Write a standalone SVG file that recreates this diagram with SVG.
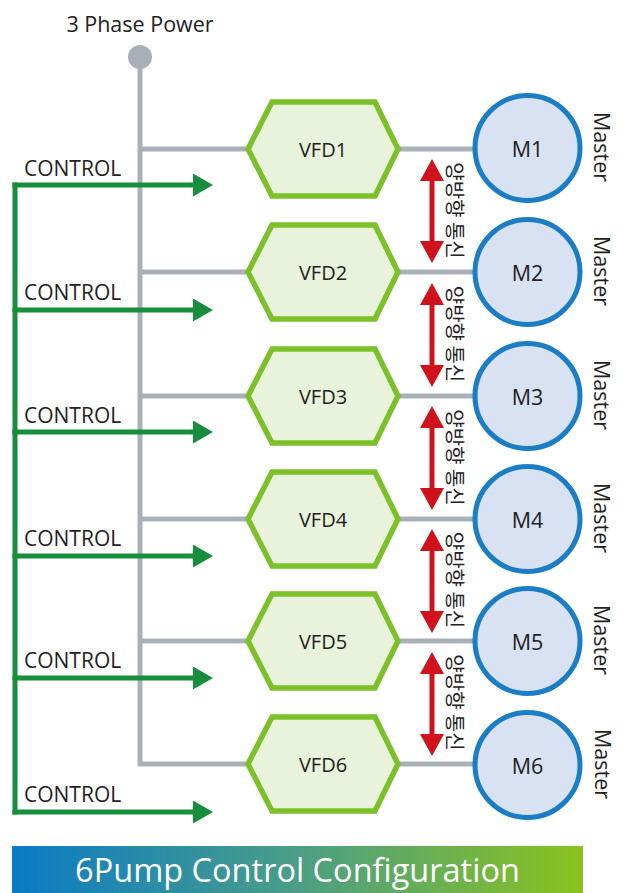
<svg xmlns="http://www.w3.org/2000/svg" width="623" height="893" viewBox="0 0 623 893">
<defs>
<linearGradient id="bannerGrad" x1="0" y1="0" x2="1" y2="0">
<stop offset="0" stop-color="#0a7bc6"/>
<stop offset="0.5" stop-color="#4b9e86"/>
<stop offset="1" stop-color="#8bc21c"/>
</linearGradient>
<marker id="greenHead" markerUnits="userSpaceOnUse" markerWidth="20" markerHeight="23" refX="2" refY="11.5" orient="auto">
<path d="M0,0 L20,11.5 L0,23 Z" fill="#178e3b"/>
</marker>
<marker id="redHead" markerUnits="userSpaceOnUse" markerWidth="22" markerHeight="24" refX="2" refY="12" orient="auto-start-reverse">
<path d="M0,0 L22,12 L0,24 Z" fill="#d0121c"/>
</marker>
</defs>
<style>
.power{fill:none;stroke:#a9b0b8;stroke-width:5}
.ctrl{fill:none;stroke:#178e3b;stroke-width:5}
.ctrlArrow{fill:none;stroke:#178e3b;stroke-width:5;marker-end:url(#greenHead)}
.comm{fill:none;stroke:#d0121c;stroke-width:5;marker-start:url(#redHead);marker-end:url(#redHead)}
.hex{fill:#e9f2da;stroke:#7cc12a;stroke-width:5.5;stroke-linejoin:miter}
.motor{fill:#d9e2f3;stroke:#1b7dc3;stroke-width:5}
.lbl{font-family:"Open Sans","Liberation Sans",sans-serif;font-size:20px;fill:#222;text-anchor:middle;dominant-baseline:central}
.big{font-size:21.5px}
.ctl{font-family:"Open Sans","Liberation Sans",sans-serif;font-size:21px;fill:#222}
.kr{font-family:"Noto Sans CJK KR",sans-serif;font-size:20px;fill:#222;text-anchor:middle;dominant-baseline:central}
.title{font-family:"Open Sans","Liberation Sans",sans-serif;font-size:32.5px;fill:#ffffff;text-anchor:middle}
</style>
<rect width="623" height="893" fill="#ffffff"/>

<g id="connectors">
<path class="power" d="M140,57 V764 H250"/>
<path class="power" d="M140,149 H250 M140,272 H250 M140,396 H250 M140,519 H250 M140,641 H250"/>
<path class="power" d="M396,149 H476 M396,272 H476 M396,396 H476 M396,519 H476 M396,641 H476 M396,764 H476"/>
<path class="ctrl" d="M15,182.5 V814.5"/>
<line class="ctrlArrow" x1="12.5" y1="185" x2="195" y2="185"/>
<line class="ctrlArrow" x1="12.5" y1="310" x2="195" y2="310"/>
<line class="ctrlArrow" x1="12.5" y1="432" x2="195" y2="432"/>
<line class="ctrlArrow" x1="12.5" y1="556" x2="195" y2="556"/>
<line class="ctrlArrow" x1="12.5" y1="678" x2="195" y2="678"/>
<line class="ctrlArrow" x1="12.5" y1="812" x2="195" y2="812"/>
<line class="comm" x1="432" y1="179" x2="432" y2="243"/>
<line class="comm" x1="432" y1="303" x2="432" y2="367"/>
<line class="comm" x1="432" y1="426" x2="432" y2="490"/>
<line class="comm" x1="432" y1="549" x2="432" y2="613"/>
<line class="comm" x1="432" y1="672" x2="432" y2="736"/>
</g>

<g id="power-source">
<circle cx="140" cy="57" r="12" fill="#a9b0b8"/>
<text class="lbl big" x="140" y="23">3 Phase Power</text>
</g>

<g id="control-labels">
<text class="ctl" x="24" y="176">CONTROL</text>
<text class="ctl" x="24" y="300">CONTROL</text>
<text class="ctl" x="24" y="423">CONTROL</text>
<text class="ctl" x="24" y="546">CONTROL</text>
<text class="ctl" x="24" y="668">CONTROL</text>
<text class="ctl" x="24" y="802">CONTROL</text>
</g>

<g id="comm-labels">
<text class="kr" transform="translate(455,210.5) rotate(90)">양방향 통신</text>
<text class="kr" transform="translate(455,334) rotate(90)">양방향 통신</text>
<text class="kr" transform="translate(455,457.5) rotate(90)">양방향 통신</text>
<text class="kr" transform="translate(455,580) rotate(90)">양방향 통신</text>
<text class="kr" transform="translate(455,702.5) rotate(90)">양방향 통신</text>
</g>

<g id="VFD1"><polygon class="hex" points="248,149 272,102 375,102 398,149 375,196 272,196"/><text class="lbl" x="323" y="149">VFD1</text></g>
<g id="VFD2"><polygon class="hex" points="248,272 272,225 375,225 398,272 375,319 272,319"/><text class="lbl" x="323" y="272">VFD2</text></g>
<g id="VFD3"><polygon class="hex" points="248,396 272,349 375,349 398,396 375,443 272,443"/><text class="lbl" x="323" y="396">VFD3</text></g>
<g id="VFD4"><polygon class="hex" points="248,519 272,472 375,472 398,519 375,566 272,566"/><text class="lbl" x="323" y="519">VFD4</text></g>
<g id="VFD5"><polygon class="hex" points="248,641 272,594 375,594 398,641 375,688 272,688"/><text class="lbl" x="323" y="641">VFD5</text></g>
<g id="VFD6"><polygon class="hex" points="248,764 272,717 375,717 398,764 375,811 272,811"/><text class="lbl" x="323" y="764">VFD6</text></g>

<g id="M1"><circle class="motor" cx="527.5" cy="148" r="52.5"/><text class="lbl big" x="527.5" y="148">M1</text><text class="lbl big" transform="translate(602,147) rotate(90)">Master</text></g>
<g id="M2"><circle class="motor" cx="527.5" cy="272" r="52.5"/><text class="lbl big" x="527.5" y="272">M2</text><text class="lbl big" transform="translate(602,271) rotate(90)">Master</text></g>
<g id="M3"><circle class="motor" cx="527.5" cy="396" r="52.5"/><text class="lbl big" x="527.5" y="396">M3</text><text class="lbl big" transform="translate(602,395) rotate(90)">Master</text></g>
<g id="M4"><circle class="motor" cx="527.5" cy="519" r="52.5"/><text class="lbl big" x="527.5" y="519">M4</text><text class="lbl big" transform="translate(602,518) rotate(90)">Master</text></g>
<g id="M5"><circle class="motor" cx="527.5" cy="641" r="52.5"/><text class="lbl big" x="527.5" y="641">M5</text><text class="lbl big" transform="translate(602,640) rotate(90)">Master</text></g>
<g id="M6"><circle class="motor" cx="527.5" cy="765" r="52.5"/><text class="lbl big" x="527.5" y="765">M6</text><text class="lbl big" transform="translate(603,764) rotate(90)">Master</text></g>

<g id="title">
<rect x="12" y="846" width="571" height="47" fill="url(#bannerGrad)"/>
<text class="title" x="297.5" y="882">6Pump Control Configuration</text>
</g>
</svg>
